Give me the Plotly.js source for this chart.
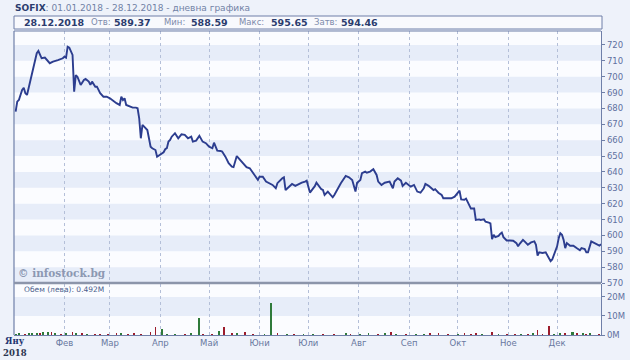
<!DOCTYPE html>
<html><head><meta charset="utf-8">
<script src="https://cdn.plot.ly/plotly-3.0.1.min.js"></script>
<style>html,body{margin:0;padding:0;background:#eef2fa;}#chart{width:630px;height:360px;}</style>
</head><body><div id="chart"></div>
<script>
// ---- data ----
const priceDates = ['2018-01-02','2018-01-03','2018-01-04','2018-01-06','2018-01-07','2018-01-08','2018-01-09','2018-01-11','2018-01-13','2018-01-15','2018-01-16','2018-01-18','2018-01-20','2018-01-22','2018-01-23','2018-01-25','2018-01-26','2018-01-28','2018-01-31','2018-02-01','2018-02-02','2018-02-03','2018-02-04','2018-02-06','2018-02-07','2018-02-08','2018-02-09','2018-02-11','2018-02-13','2018-02-14','2018-02-16','2018-02-17','2018-02-18','2018-02-20','2018-02-21','2018-02-23','2018-02-25','2018-02-27','2018-03-01','2018-03-03','2018-03-05','2018-03-07','2018-03-08','2018-03-09','2018-03-10','2018-03-11','2018-03-13','2018-03-15','2018-03-17','2018-03-18','2018-03-19','2018-03-20','2018-03-21','2018-03-24','2018-03-25','2018-03-26','2018-03-27','2018-03-29','2018-03-30','2018-04-01','2018-04-03','2018-04-04','2018-04-05','2018-04-06','2018-04-07','2018-04-08','2018-04-10','2018-04-12','2018-04-14','2018-04-16','2018-04-18','2018-04-20','2018-04-21','2018-04-23','2018-04-25','2018-04-27','2018-04-29','2018-05-01','2018-05-03','2018-05-04','2018-05-06','2018-05-08','2018-05-09','2018-05-11','2018-05-13','2018-05-15','2018-05-16','2018-05-18','2018-05-20','2018-05-22','2018-05-24','2018-05-26','2018-05-28','2018-05-31','2018-06-01','2018-06-03','2018-06-05','2018-06-07','2018-06-09','2018-06-11','2018-06-12','2018-06-15','2018-06-16','2018-06-17','2018-06-19','2018-06-21','2018-06-23','2018-06-25','2018-06-27','2018-06-29','2018-06-30','2018-07-02','2018-07-04','2018-07-05','2018-07-06','2018-07-09','2018-07-10','2018-07-11','2018-07-13','2018-07-14','2018-07-16','2018-07-17','2018-07-19','2018-07-21','2018-07-24','2018-07-26','2018-07-28','2018-07-29','2018-07-30','2018-07-31','2018-08-02','2018-08-03','2018-08-05','2018-08-06','2018-08-08','2018-08-10','2018-08-12','2018-08-13','2018-08-15','2018-08-17','2018-08-20','2018-08-22','2018-08-23','2018-08-25','2018-08-27','2018-08-28','2018-08-30','2018-09-02','2018-09-04','2018-09-06','2018-09-08','2018-09-10','2018-09-11','2018-09-13','2018-09-15','2018-09-16','2018-09-17','2018-09-19','2018-09-21','2018-09-22','2018-09-25','2018-09-27','2018-09-29','2018-09-30','2018-10-02','2018-10-03','2018-10-05','2018-10-06','2018-10-08','2018-10-09','2018-10-11','2018-10-12','2018-10-14','2018-10-15','2018-10-17','2018-10-18','2018-10-20','2018-10-21','2018-10-22','2018-10-23','2018-10-24','2018-10-26','2018-10-27','2018-10-28','2018-10-29','2018-10-31','2018-11-02','2018-11-04','2018-11-06','2018-11-07','2018-11-08','2018-11-10','2018-11-11','2018-11-13','2018-11-15','2018-11-17','2018-11-18','2018-11-19','2018-11-20','2018-11-22','2018-11-24','2018-11-25','2018-11-26','2018-11-27','2018-11-28','2018-11-30','2018-12-01','2018-12-02','2018-12-03','2018-12-04','2018-12-05','2018-12-06','2018-12-07','2018-12-09','2018-12-11','2018-12-13','2018-12-14','2018-12-15','2018-12-16','2018-12-18','2018-12-19','2018-12-20','2018-12-22','2018-12-23','2018-12-25','2018-12-27','2018-12-28'];
const priceClose = [678,684.3,685.3,691.6,693,689.6,688.5,696.9,705.3,714.8,716.2,711.6,712,709.5,708.5,709.5,710,710.5,711.6,712.6,712,718.9,718.3,713.7,690.6,701,700,694.8,698,698.6,696.9,694.8,696.9,693.7,693.7,689.6,687.4,687.4,686.4,684.7,683.3,682.2,687.4,685.3,686.4,682.2,681.1,680.5,680.5,680.1,673.8,661.2,669.6,666.4,661.2,655.9,654.9,653.8,649.6,651,652.4,654.3,655,659.1,660.1,662.2,664.4,661.2,663.7,663.3,661.2,662.2,659.1,659.7,662.7,659.1,658.1,655.9,654.9,658.4,653.4,653.2,652.8,649.6,645.5,643.3,643,650,647.5,645,643,642.3,639.2,635,637,637,633.9,632.9,631.8,629.7,632.9,636,636.6,628.6,630.3,632.4,631.2,632.4,633.2,633.9,634.5,627,629.7,631,633.2,629.1,628.6,625.5,627.6,626.6,624,625.5,629.7,632.9,637.5,636.6,634.9,631.8,627.6,633.2,634.9,639.2,640.2,639.5,640.2,641.7,638.1,633.9,631.8,633.2,633.9,629.7,633.9,636,634.5,631.2,633.2,630.7,631.8,627.6,626.9,629.7,632.4,631.2,629.7,628.6,629.1,626.9,625.5,623.4,623.4,623.4,624.4,625.5,628.2,622.7,622.5,623.2,618.5,616.9,616.9,609.7,610.1,609.7,610.1,608.6,608,607.6,597.6,600.3,598.9,599.7,601,601.8,598.9,596.8,596.8,596.6,595.1,593.1,594.7,597.2,596.2,594.1,595.6,596.2,594.1,587.3,589.3,588.9,589.3,587.3,584.8,583.7,584.8,590,593.1,598.3,601.4,600.4,597.2,592,595.2,593.5,593.5,592,591.4,590.6,592,591.4,589.3,589.3,596.2,595.6,594.5,593.5,594.46];

const volDates = ['2018-01-02','2018-01-04','2018-01-08','2018-01-10','2018-01-12','2018-01-15','2018-01-17','2018-01-19','2018-01-22','2018-01-24','2018-01-26','2018-01-30','2018-02-02','2018-02-06','2018-02-08','2018-02-12','2018-02-15','2018-02-20','2018-02-23','2018-02-28','2018-03-05','2018-03-08','2018-03-12','2018-03-16','2018-03-20','2018-03-26','2018-03-29','2018-04-02','2018-04-05','2018-04-10','2018-04-16','2018-04-20','2018-04-25','2018-04-27','2018-05-03','2018-05-07','2018-05-10','2018-05-15','2018-05-18','2018-05-23','2018-05-28','2018-06-04','2018-06-08','2018-06-12','2018-06-18','2018-06-22','2018-06-28','2018-07-04','2018-07-10','2018-07-17','2018-07-24','2018-07-27','2018-08-02','2018-08-07','2018-08-13','2018-08-17','2018-08-21','2018-08-24','2018-08-30','2018-09-05','2018-09-10','2018-09-14','2018-09-19','2018-09-25','2018-10-01','2018-10-05','2018-10-09','2018-10-12','2018-10-16','2018-10-22','2018-10-26','2018-10-31','2018-11-05','2018-11-09','2018-11-13','2018-11-16','2018-11-19','2018-11-22','2018-11-26','2018-11-29','2018-12-03','2018-12-06','2018-12-10','2018-12-11','2018-12-13','2018-12-17','2018-12-19','2018-12-21','2018-12-27'];
const volMillions = [0.6,0.8,0.7,0.9,1.0,1.2,0.9,1.4,1.8,1.5,1.1,0.7,0.8,1.7,1.1,0.9,0.6,0.7,0.5,0.6,0.9,1.1,0.7,0.8,0.6,1.4,4.2,3.2,0.6,0.7,0.5,0.8,9.0,0.7,0.6,2.0,4.1,0.9,0.8,1.5,0.6,0.7,16.8,0.9,0.6,0.7,0.5,0.6,0.5,0.4,0.9,0.5,0.7,0.8,0.6,0.9,1.5,0.6,0.5,0.6,0.7,1.1,0.8,0.5,0.6,1.0,0.7,1.1,0.5,1.4,0.6,0.7,0.5,0.6,0.5,0.8,2.5,0.6,4.5,0.7,0.8,0.9,1.4,1.6,1.0,0.8,0.7,1.2,0.6];
const volDirection = ['u','u','d','u','u','u','d','u','u','d','u','d','u','d','u','d','u','d','d','d','d','u','d','d','d','d','d','u','u','u','d','u','u','d','d','u','d','d','u','d','d','u','u','d','u','d','u','u','d','d','u','d','u','u','d','u','d','u','d','u','u','d','d','d','u','d','d','d','u','d','u','d','d','u','d','u','d','d','d','u','u','d','u','u','d','u','d','u','d'];

const monthStarts = ['2018-01-01','2018-02-01','2018-03-01','2018-04-01','2018-05-01','2018-06-01','2018-07-01','2018-08-01','2018-09-01','2018-10-01','2018-11-01','2018-12-01'];
const monthLabels = ['','Фев','Мар','Апр','Май','Юни','Юли','Авг','Сеп','Окт','Ное','Дек'];
const priceTicks = [570,580,590,600,610,620,630,640,650,660,670,680,690,700,710,720];
const volTicks = [0,10,20];
const volTickLabels = ['0M','10M','20M'];

const indexName = 'SOFIX';
const periodText = ': 01.01.2018 - 28.12.2018 - дневна графика';
const lastDate = '28.12.2018';
const headerLabels = ['Отв:','Мин:','Макс:','Затв:'];
const headerValues = ['589.37','588.59','595.65','594.46'];
const volumeNote = 'Обем (лева): 0.492M';

// ---- layout helpers (pixel -> paper) ----
const L = 14, R = 601, T = 31, B = 335;
const PX = x => (x - L) / (R - L);
const PY = y => (B - y) / (B - T);

const shapes = [];
priceTicks.forEach(v => {
  if ((v / 10) % 2 === 1) {
    shapes.push({type:'rect', xref:'paper', yref:'y', x0:0, x1:1, y0:v, y1:v+10,
      fillcolor:'#e7edf9', line:{width:0}, layer:'below'});
  }
});
shapes.push({type:'rect', xref:'paper', yref:'y2', x0:0, x1:1, y0:10, y1:20,
  fillcolor:'#e7edf9', line:{width:0}, layer:'below'});
shapes.push({type:'line', xref:'paper', yref:'paper', x0:0, x1:0, y0:0, y1:1, line:{color:'#6f7fa8', width:1.2}});
shapes.push({type:'line', xref:'paper', yref:'paper', x0:0, x1:1, y0:1, y1:1, line:{color:'#6f7fa8', width:1.2}});
shapes.push({type:'line', xref:'paper', yref:'paper', x0:0, x1:1, y0:PY(283), y1:PY(283), line:{color:'#8c95aa', width:2.5}});
shapes.push({type:'rect', xref:'paper', yref:'paper', x0:0, x1:PX(602), y0:PY(29), y1:PY(16),
  fillcolor:'#f8f9fd', line:{color:'#6f7fa8', width:1}});

const FONT = 'DejaVu Sans, Verdana, sans-serif';
const annotations = [];
annotations.push({xref:'paper', yref:'paper', x:PX(13), y:PY(8), xanchor:'left', yanchor:'middle', showarrow:false,
  text:'<b>'+indexName+'</b><span style="color:#7282a6">'+periodText+'</span>',
  font:{family:FONT, size:9, color:'#2b3c6e'}});
annotations.push({xref:'paper', yref:'paper', x:PX(22), y:PY(22), xanchor:'left', yanchor:'middle', showarrow:false,
  text:'<b>'+lastDate+'</b>', font:{family:FONT, size:9.5, color:'#2b3c6e'}});
const labelX = [89, 162, 237, 312];
const valueX = [112, 189, 269, 339];
headerLabels.forEach((lab, i) => {
  annotations.push({xref:'paper', yref:'paper', x:PX(labelX[i]), y:PY(22), xanchor:'left', yanchor:'middle', showarrow:false,
    text:lab, font:{family:FONT, size:8.5, color:'#7d8bab'}});
  annotations.push({xref:'paper', yref:'paper', x:PX(valueX[i]), y:PY(22), xanchor:'left', yanchor:'middle', showarrow:false,
    text:'<b>'+headerValues[i]+'</b>', font:{family:FONT, size:9.5, color:'#2b3c6e'}});
});
annotations.push({xref:'paper', yref:'paper', x:PX(16), y:PY(273), xanchor:'left', yanchor:'middle', showarrow:false,
  text:'<b>© infostock.bg</b>', font:{family:'DejaVu Serif, serif', size:10.5, color:'#8c98b2'}});
annotations.push({xref:'paper', yref:'paper', x:PX(22), y:PY(289), xanchor:'left', yanchor:'middle', showarrow:false,
  text:volumeNote, font:{family:FONT, size:7.5, color:'#4b5d8c'}});
annotations.push({xref:'paper', yref:'paper', x:PX(15), y:PY(341), xanchor:'center', yanchor:'middle', showarrow:false,
  text:'<b>Яну</b>', font:{family:'DejaVu Serif, serif', size:8.5, color:'#1f3570'}});
annotations.push({xref:'paper', yref:'paper', x:PX(15), y:PY(353), xanchor:'center', yanchor:'middle', showarrow:false,
  text:'<b>2018</b>', font:{family:'DejaVu Serif, serif', size:8.5, color:'#2b3550'}});

const barColors = volDirection.map(d => d === 'u' ? '#2f7a3a' : '#9c1c2c');

const traces = [
  {type:'scatter', mode:'lines', x:priceDates, y:priceClose, xaxis:'x', yaxis:'y',
   line:{color:'#2c3d8f', width:1.9}, hoverinfo:'skip'},
  {type:'bar', x:volDates, y:volMillions, xaxis:'x2', yaxis:'y2',
   marker:{color:barColors, line:{width:0}}, width:86400000*1.1, hoverinfo:'skip'}
];

const xBase = {type:'date', range:['2018-01-01','2018-12-28'], tickvals:monthStarts, ticktext:monthLabels,
  showgrid:true, gridcolor:'#b4bfd8', griddash:'dot', gridwidth:1, zeroline:false, showline:false,
  tickfont:{family:FONT, size:8.5, color:'#6878a0'}, ticks:''};

const layout = {
  width:630, height:360,
  margin:{l:L, r:630-R, t:T, b:360-B, pad:0},
  paper_bgcolor:'#eef2fa', plot_bgcolor:'#fbfcff',
  showlegend:false,
  xaxis: Object.assign({}, xBase, {anchor:'y', showticklabels:false}),
  xaxis2: Object.assign({}, xBase, {anchor:'y2', matches:'x', showticklabels:true, showline:true, linecolor:'#6f7fa8', linewidth:1}),
  yaxis: {domain:[PY(283),1], range:[570,728.8], side:'right', tickvals:priceTicks, showgrid:false, zeroline:false,
    showline:true, linecolor:'#6f7fa8', linewidth:1.2, ticks:'outside', ticklen:3, tickcolor:'#6f7fa8',
    tickfont:{family:FONT, size:8.5, color:'#6070a0'}},
  yaxis2: {domain:[0,PY(284)], range:[0,26.8], side:'right', tickvals:volTicks, ticktext:volTickLabels, showgrid:false, zeroline:false,
    showline:true, linecolor:'#6f7fa8', linewidth:1.2, ticks:'outside', ticklen:3, tickcolor:'#6f7fa8',
    tickfont:{family:FONT, size:8.5, color:'#6070a0'}},
  bargap:0,
  shapes:shapes,
  annotations:annotations
};
Plotly.newPlot('chart', traces, layout, {displayModeBar:false, staticPlot:true});
</script></body></html>
